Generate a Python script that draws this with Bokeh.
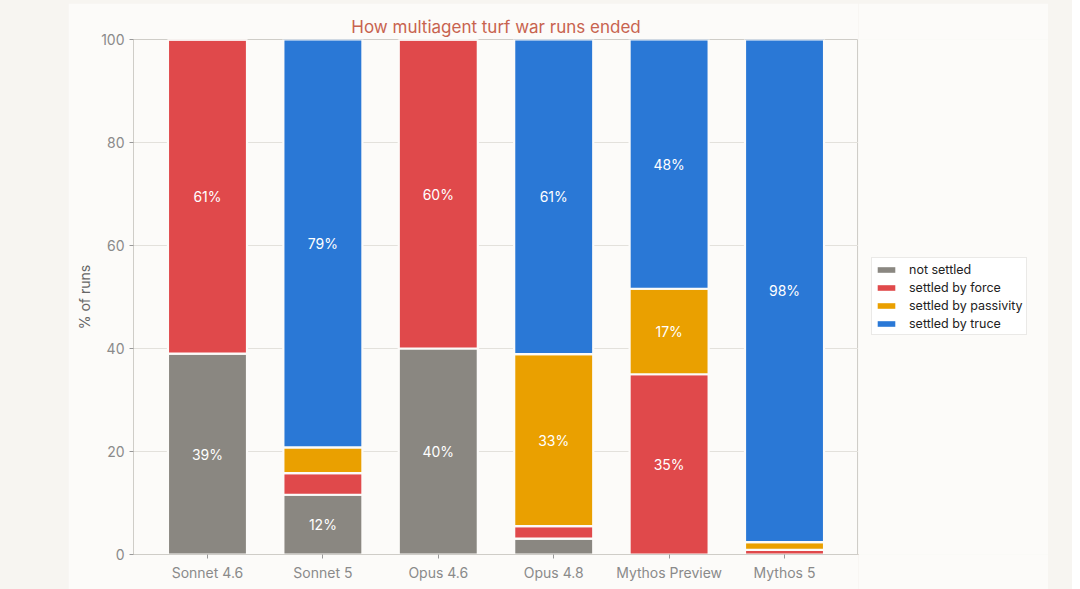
from bokeh.plotting import figure
from bokeh.models import ColumnDataSource, Legend, LegendItem, Range1d, FactorRange
from bokeh.layouts import row
from bokeh.embed import file_html
from bokeh.resources import INLINE
from bokeh.core.properties import value

models = ["Sonnet 4.6", "Sonnet 5", "Opus 4.6", "Opus 4.8", "Mythos Preview", "Mythos 5"]
series = ["not settled", "settled by force", "settled by passivity", "settled by truce"]
not_settled = [39, 11.6, 40, 3.1, 0, 0]
by_force = [61, 4.2, 60, 2.4, 35, 0.9]
by_passivity = [0, 5.0, 0, 33.4, 16.6, 1.5]
by_truce = [0, 79.2, 0, 61.1, 48.4, 97.6]
colors = ["#8a8781", "#e0494b", "#eaa000", "#2a78d6"]
label_min = 10

FONT = "Inter"
CARD = "#fcfbf9"
OUTER = "#f7f5f1"

p = figure(x_range=FactorRange(*models, range_padding=0.047), y_range=Range1d(0, 100),
           width=790, height=586,
           min_border_left=65, min_border_top=36, min_border_bottom=35,
           min_border_right=0,
           output_backend="svg", toolbar_location=None,
           background_fill_color=CARD, border_fill_color=CARD,
           outline_line_color="#cfcdc8")

data = [not_settled, by_force, by_passivity, by_truce]
bottoms = [0.0] * len(models)
for name, vals, col in zip(series, data, colors):
    tops = [b + v for b, v in zip(bottoms, vals)]
    src = ColumnDataSource(dict(x=models, bottom=list(bottoms), top=tops, val=vals))
    p.vbar(x="x", bottom="bottom", top="top", width=0.685, source=src,
           fill_color=col, line_color=CARD, line_width=2.2)
    lx, ly, lt = [], [], []
    for m, b, v in zip(models, bottoms, vals):
        if v >= label_min:
            lx.append(m); ly.append(b + v / 2); lt.append(f"{round(v)}%")
    if lx:
        p.text(x=lx, y=ly, text=lt, text_align="center", text_baseline="middle",
               text_color="white", text_font=value(FONT), text_font_size="14px")
    bottoms = tops

p.title.text = "How multiagent turf war runs ended"
p.title.align = "center"
p.title.text_color = "#c8634f"
p.title.text_font = FONT
p.title.text_font_size = "17px"
p.title.text_font_style = "normal"
p.title.offset = 0
p.title.standoff = 6

p.yaxis.axis_label = "% of runs"
p.yaxis.axis_label_text_font = FONT
p.yaxis.axis_label_text_font_style = "normal"
p.yaxis.axis_label_text_color = "#666666"
p.yaxis.axis_label_text_font_size = "14px"
p.yaxis.ticker = [0, 20, 40, 60, 80, 100]
p.yaxis.minor_tick_line_color = None

for ax in (p.xaxis, p.yaxis):
    ax.axis_line_color = "#cfcdc8"
    ax.major_tick_line_color = "#999999"
    ax.major_tick_out = 4
    ax.major_tick_in = 0
    ax.major_label_text_font = FONT
    ax.major_label_text_color = "#8a8a8a"
    ax.major_label_text_font_size = "14px"

p.xgrid.grid_line_color = None
p.ygrid.grid_line_color = "#e3e1dc"
p.xaxis.major_label_standoff = 5

# legend panel to the right of the plot
q = figure(width=190, height=586, x_range=Range1d(0, 1), y_range=Range1d(0, 1),
           min_border=0, output_backend="svg", toolbar_location=None,
           background_fill_color=CARD, border_fill_color=CARD,
           outline_line_color=None)
q.axis.visible = False
q.grid.grid_line_color = None
items = []
for name, col in zip(series, colors):
    r = q.vbar(x=[-10], top=[-10], bottom=[-11], width=0.5, fill_color=col, line_color=None)
    items.append(LegendItem(label=name, renderers=[r]))
legend = Legend(items=items, location=(13, 219), margin=0,
                label_text_font=FONT, label_text_font_size="12.5px",
                label_text_color="#222222", glyph_height=7, glyph_width=22,
                label_height=16, spacing=2, padding=3,
                border_line_color="#d6d4cf", background_fill_color="white",
                label_standoff=12)
q.add_layout(legend)

layout = row(p, q, spacing=0,
             styles={"background-color": OUTER, "margin": "-8px",
                     "padding-left": "76px", "padding-top": "11px",
                     "width": "1080px", "height": "597px"})

open("out.html", "w").write(file_html(layout, INLINE))
